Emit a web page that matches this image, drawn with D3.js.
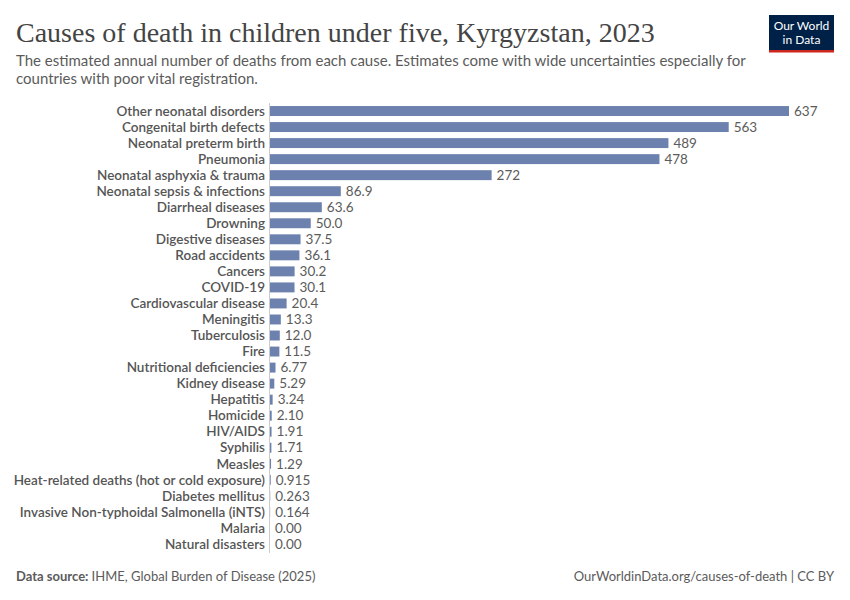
<!DOCTYPE html>
<html>
<head>
<meta charset="utf-8">
<script src="https://cdn.jsdelivr.net/npm/d3@7"></script>
<style>
  body { margin: 0; background: #fff; }
  svg { font-family: Lato, "Noto Sans", sans-serif; }
</style>
</head>
<body>
<div id="chart"></div>
<script>
// causes and values
const causes = ["Other neonatal disorders", "Congenital birth defects", "Neonatal preterm birth", "Pneumonia",
  "Neonatal asphyxia & trauma", "Neonatal sepsis & infections", "Diarrheal diseases", "Drowning",
  "Digestive diseases", "Road accidents", "Cancers", "COVID-19", "Cardiovascular disease", "Meningitis",
  "Tuberculosis", "Fire", "Nutritional deficiencies", "Kidney disease", "Hepatitis", "Homicide", "HIV/AIDS",
  "Syphilis", "Measles", "Heat-related deaths (hot or cold exposure)", "Diabetes mellitus",
  "Invasive Non-typhoidal Salmonella (iNTS)", "Malaria", "Natural disasters"]
const deaths = [637, 563, 489, 478, 272, 86.9, 63.6, 50.0, 37.5, 36.1, 30.2, 30.1, 20.4, 13.3, 12.0, 11.5,
  6.77, 5.29, 3.24, 2.10, 1.91, 1.71, 1.29, 0.915, 0.263, 0.164, 0.00, 0.00]
const labels = ["637", "563", "489", "478", "272", "86.9", "63.6", "50.0", "37.5", "36.1", "30.2", "30.1", "20.4",
  "13.3", "12.0", "11.5", "6.77", "5.29", "3.24", "2.10", "1.91", "1.71", "1.29", "0.915", "0.263", "0.164",
  "0.00", "0.00"]

const W = 850, H = 600
const svg = d3.select("#chart").append("svg")
  .attr("width", W).attr("height", H)

// header
svg.append("text")
  .attr("x", 16).attr("y", 42)
  .style("font-family", "'Liberation Serif', 'DejaVu Serif', serif")
  .style("font-size", "28px")
  .style("fill", "#444")
  .text("Causes of death in children under five, Kyrgyzstan, 2023")

const sub = ["The estimated annual number of deaths from each cause. Estimates come with wide uncertainties especially for",
  "countries with poor vital registration."]
svg.selectAll(".sub").data(sub).enter().append("text")
  .attr("x", 16).attr("y", (d, i) => 66 + i * 18)
  .style("font-size", "15px").style("fill", "#5b5b5b")
  .text(d => d)

// logo
const logo = svg.append("g").attr("transform", "translate(769,15)")
logo.append("rect").attr("width", 65).attr("height", 35).attr("fill", "#002147")
logo.append("rect").attr("y", 35).attr("width", 65).attr("height", 2.5).attr("fill", "#ce261e")
logo.selectAll("text").data(["Our World", "in Data"]).enter().append("text")
  .attr("x", 32.5).attr("y", (d, i) => 15 + i * 14)
  .attr("text-anchor", "middle")
  .style("font-size", "12px").style("fill", "#fff")
  .text(d => d)

// chart area
const x0 = 270
const x = d3.scaleLinear().domain([0, 637]).range([x0, 789])
const y = d3.scaleBand().domain(causes).range([103, 552]).paddingInner(0.38).paddingOuter(0.19)

svg.append("g").selectAll("rect")
  .data(causes).enter().append("rect")
  .attr("x", x0)
  .attr("y", d => y(d))
  .attr("width", (d, i) => x(deaths[i]) - x0)
  .attr("height", y.bandwidth())
  .attr("fill", "#6c81ad")

svg.append("line")
  .attr("x1", x0 - 0.5).attr("x2", x0 - 0.5)
  .attr("y1", 103).attr("y2", 553)
  .attr("stroke", "#ccc")

svg.append("g").selectAll("text")
  .data(causes).enter().append("text")
  .attr("x", x0 - 5)
  .attr("y", d => y(d) + y.bandwidth() / 2)
  .attr("dy", "0.35em")
  .attr("text-anchor", "end")
  .style("font-size", "13.5px").style("font-weight", 600).style("fill", "#555")
  .text(d => d)

svg.append("g").selectAll("text")
  .data(causes).enter().append("text")
  .attr("x", (d, i) => x(deaths[i]) + 5)
  .attr("y", d => y(d) + y.bandwidth() / 2)
  .attr("dy", "0.35em")
  .style("font-size", "13.5px").style("fill", "#5b5b5b")
  .text((d, i) => labels[i])

// footer
const foot = svg.append("text").attr("x", 16).attr("y", 581)
  .style("font-size", "13px").style("fill", "#5b5b5b")
foot.append("tspan").style("font-weight", 700).text("Data source: ")
foot.append("tspan").text("IHME, Global Burden of Disease (2025)")

svg.append("text").attr("x", 834).attr("y", 581)
  .attr("text-anchor", "end")
  .style("font-size", "13px").style("fill", "#5b5b5b")
  .text("OurWorldinData.org/causes-of-death | CC BY")
</script>
</body>
</html>
